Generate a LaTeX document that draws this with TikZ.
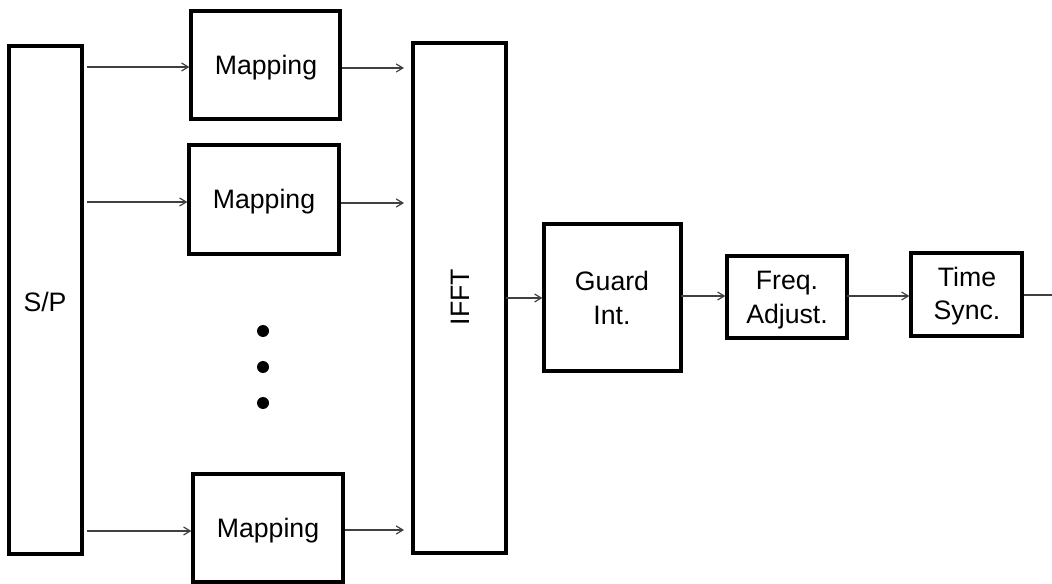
\documentclass[tikz,border=0pt]{standalone}
\usepackage{fontspec}
\setmainfont{Liberation Sans}
\usetikzlibrary{arrows.meta}
\begin{document}
\begin{tikzpicture}[x=0.75pt,y=-0.75pt,
  blk/.style={draw=black,line width=2.4pt,inner sep=0pt},
  txt/.style={inner sep=0pt,font=\fontsize{20}{25}\selectfont,align=center},
  conn/.style={draw=black!75,line width=0.9pt,-{Straight Barb[length=5pt,width=6pt]}},
  plain/.style={draw=black!75,line width=0.9pt},
  dot/.style={circle,fill=black,inner sep=0pt,minimum size=9pt}]
\useasboundingbox (0,0) rectangle (1052,584);
\node[blk,minimum width=73*0.75pt,minimum height=508*0.75pt] (sp) at (45.5,300) {};
\node[txt] (sptxt) at (45,302) {S/P};
\node[blk,minimum width=149*0.75pt,minimum height=108*0.75pt] (m1) at (265.5,65) {};
\node[txt] (m1txt) at (266,68) {Mapping};
\node[blk,minimum width=150*0.75pt,minimum height=109*0.75pt] (m2) at (264,199.5) {};
\node[txt] (m2txt) at (264,202) {Mapping};
\node[blk,minimum width=150*0.75pt,minimum height=108*0.75pt] (m3) at (268,528) {};
\node[txt] (m3txt) at (268,531) {Mapping};
\node[blk,minimum width=93*0.75pt,minimum height=510*0.75pt] (ifft) at (459.5,298) {};
\node[txt] (iffttxt) at (460,297) {\rotatebox{90}{IFFT}};
\node[blk,minimum width=137*0.75pt,minimum height=147*0.75pt] (gi) at (612.5,297.5) {};
\node[txt] (gitxt) at (612,298) {Guard\\Int.};
\node[blk,minimum width=120*0.75pt,minimum height=82*0.75pt] (fa) at (787,297) {};
\node[txt] (fatxt) at (787,300) {Freq.\\Adjust.};
\node[blk,minimum width=111*0.75pt,minimum height=83*0.75pt] (ts) at (966.5,294.5) {};
\node[txt] (tstxt) at (967,296) {Time\\Sync.};
\coordinate (out) at (1052,295);
\coordinate (s1) at (87,67);
\coordinate (s2) at (87,202);
\coordinate (s3) at (87,531);
\draw[conn] (s1) -- (m1.west |- s1);
\draw[conn] (s2) -- (m2.west |- s2);
\draw[conn] (s3) -- (m3.west |- s3);
\coordinate (i1) at (404,68);
\coordinate (i2) at (404,203);
\coordinate (i3) at (404,530);
\draw[conn] (m1.east |- i1) -- (i1);
\draw[conn] (m2.east |- i2) -- (i2);
\draw[conn] (m3.east |- i3) -- (i3);
\coordinate (g1) at (506,298);
\draw[conn] (g1) -- (gi.west |- g1);
\coordinate (f1) at (681,296);
\draw[conn] (f1) -- (fa.west |- f1);
\coordinate (t1) at (847,296);
\draw[conn] (t1) -- (ts.west |- t1);
\draw[plain] (ts.east |- out) -- (out);
\node[dot] (d1) at (263,331) {};
\node[dot] (d2) at (263,367) {};
\node[dot] (d3) at (263,403) {};
\end{tikzpicture}
\end{document}
